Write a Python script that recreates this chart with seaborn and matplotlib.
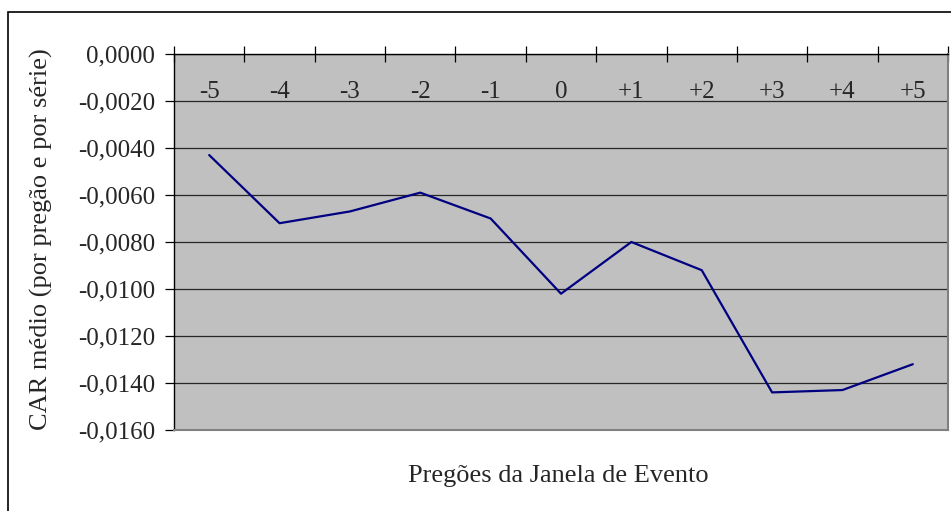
import matplotlib
matplotlib.use("Agg")
import matplotlib.pyplot as plt
from matplotlib.patches import Rectangle
from matplotlib.ticker import FixedLocator, FuncFormatter
import seaborn as sns
import pandas as pd
import numpy as np

# Event window days and mean cumulative abnormal return
dias = ["-5", "-4", "-3", "-2", "-1", "0", "+1", "+2", "+3", "+4", "+5"]
car_medio = [-0.0043, -0.0072, -0.0067, -0.0059, -0.0070, -0.0102,
             -0.0080, -0.0092, -0.0144, -0.0143, -0.0132]
y_ticks = [0.0, -0.002, -0.004, -0.006, -0.008, -0.010, -0.012, -0.014, -0.016]

sns.set_theme(style="white")
plt.rcParams["font.family"] = ["Liberation Serif", "DejaVu Serif"]

df = pd.DataFrame({"pos": np.arange(len(dias)), "car": car_medio})

fig = plt.figure(figsize=(9.51, 5.11), dpi=100)
ax = fig.add_axes([174 / 951, 1 - 430 / 511, (948 - 174) / 951, (430 - 54) / 511])
ax.set_facecolor("#C0C0C0")

sns.lineplot(data=df, x="pos", y="car", ax=ax, color="#000080", linewidth=1.6)

ax.set_xlim(-0.5, len(dias) - 0.5)
ax.set_ylim(-0.016, 0.0)

# horizontal gridlines
ax.set_yticks(y_ticks)
ax.yaxis.set_major_formatter(FuncFormatter(lambda v, _: f"{v:.4f}".replace(".", ",").replace("-0,0000", "0,0000")))
ax.grid(axis="y", color="#262626", linewidth=0.9)
ax.grid(axis="x", visible=False)
ax.set_axisbelow(True)

# category labels at top, drawn inside the plot area
ax.xaxis.tick_top()
ax.set_xticks(df["pos"])
ax.set_xticklabels(dias)
ax.xaxis.set_minor_locator(FixedLocator(np.arange(-0.5, len(dias), 1.0)))
ax.tick_params(axis="x", which="major", length=0, pad=-35.5, labelsize=18,
               top=True, bottom=False, labeltop=True, labelbottom=False)
ax.tick_params(axis="x", which="minor", length=11.5, width=0.9, direction="inout",
               color="black", top=True, bottom=False)
ax.tick_params(axis="y", which="major", length=6.5, width=0.9, direction="out",
               color="black", left=True, pad=7, labelsize=18)

for side in ["left", "top"]:
    ax.spines[side].set_color("black")
    ax.spines[side].set_linewidth(1.0)
for side in ["right", "bottom"]:
    ax.spines[side].set_color("#808080")
    ax.spines[side].set_linewidth(1.5)

ax.set_xlabel("")
ax.set_ylabel("")
fig.text(558 / 951, 1 - 476 / 511, "Pregões da Janela de Evento",
         ha="center", va="center", fontsize=19)
fig.text(41 / 951, 1 - 239 / 511, "CAR médio (por pregão e por série)",
         ha="center", va="center", rotation=90, fontsize=19)

# frame around the chart
fig.patches.append(Rectangle((7.5 / 951, -0.1), 2.0, 1 - 12 / 511 + 0.1,
                             transform=fig.transFigure, fill=False,
                             edgecolor="black", linewidth=1.2))

fig.savefig("out.png", dpi=100)
